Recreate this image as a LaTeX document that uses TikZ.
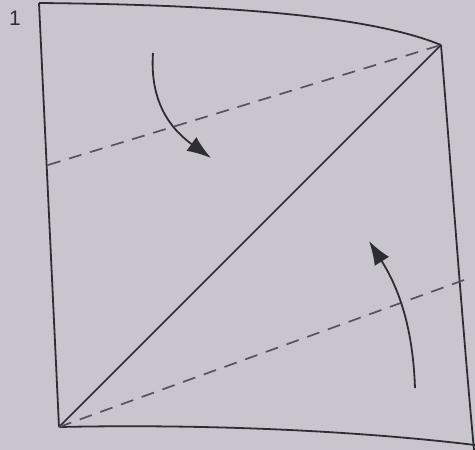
\documentclass[tikz,border=0pt]{standalone}
\usepackage{fontspec}
\setmainfont{Liberation Sans}
\usetikzlibrary{arrows.meta}
\definecolor{paper}{RGB}{200,197,207}
\definecolor{ink}{RGB}{45,45,52}
\definecolor{dashink}{RGB}{85,83,95}
\tikzset{
  edge/.style={draw=ink, line width=1.8pt},
  fold/.style={draw=dashink, line width=1.7pt, dash pattern=on 13pt off 9pt},
  turn/.style={draw=ink, line width=1.8pt, -{Latex[length=24pt,width=17pt]}},
}
\begin{document}
\begin{tikzpicture}[x=1pt,y=-1pt]
  \fill[paper] (0,0) rectangle (475,450);
  \useasboundingbox (0,0) rectangle (475,450);
  % corners
  \coordinate (tl) at (39,3);
  \coordinate (tr) at (441,45);
  \coordinate (bl) at (59,427);
  \coordinate (br) at (475,445);
  \coordinate (rb) at (474,450);
  \coordinate (lm) at (48,165);
  \coordinate (rm) at (464,280);
  \coordinate (a1s) at (153,53);
  \coordinate (a1e) at (211,158);
  \coordinate (a2s) at (415,388);
  \coordinate (a2e) at (369,241);
  % label
  \node[text=ink, font=\fontsize{21}{21}\selectfont] (num) at (15,18) {1};
  % outline
  \draw[edge] (tl) .. controls (260,5) and (380,20) .. (tr);
  \draw[edge] (tl) -- (bl);
  \draw[edge] (bl) .. controls (200,424) and (350,430) .. (br);
  \draw[edge] (tr) .. controls (452,180) and (462,320) .. (rb);
  % diagonal
  \draw[edge, line width=1.5pt] (bl) -- (tr);
  % fold lines
  \draw[fold] (lm) -- (tr);
  \draw[fold] (bl) -- (rm);
  % arrows
  \draw[turn] (a1s) .. controls (150,95) and (165,125) .. (a1e);
  \draw[turn] (a2s) .. controls (413,330) and (400,290) .. (a2e);
\end{tikzpicture}
\end{document}
